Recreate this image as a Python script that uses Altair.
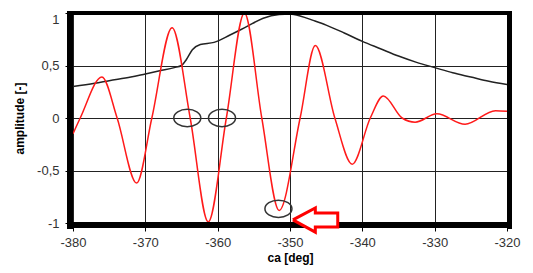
import altair as alt
import pandas as pd

# Red curve (signal)
red_deg = [-380, -379, -376, -373.9, -371.2, -369.1, -366.3, -363.8, -361.3, -358.8,
           -356.3, -353.9, -351.5, -348.6, -346.5, -343.8, -341.4, -338.9, -337.1,
           -334.5, -332.7, -329.7, -325.8, -321.6, -320]
red_amp = [-0.15, 0.0, 0.39, 0.0, -0.62, 0.0, 0.86, 0.0, -0.99, 0.0,
           1.0, 0.0, -0.88, 0.0, 0.69, 0.0, -0.44, 0.0, 0.21,
           0.0, -0.04, 0.04, -0.06, 0.07, 0.065]

# Black curve (envelope)
black_deg = [-380, -377, -375, -372, -370, -368, -366, -365, -364.3, -363.5, -362.4,
             -360.5, -358.3, -356, -353.7, -351.5, -350, -348.5, -346.8, -345, -342.5,
             -340, -337.5, -335, -332.5, -330, -327.5, -325, -322.5, -320]
black_amp = [0.30, 0.33, 0.355, 0.39, 0.42, 0.45, 0.48, 0.50, 0.56, 0.65, 0.70,
             0.72, 0.79, 0.87, 0.95, 0.985, 0.99, 0.97, 0.93, 0.885, 0.81,
             0.73, 0.66, 0.59, 0.53, 0.48, 0.43, 0.39, 0.35, 0.32]

# Annotation ellipses (centres)
circle_deg = [-364.2, -359.4, -351.6]
circle_amp = [0.0, 0.0, -0.865]

# Annotation arrow outline
arrow_deg = [-349.6, -346.5, -346.5, -343.4, -343.4, -346.5, -346.5, -349.6]
arrow_amp = [-0.97, -0.856, -0.904, -0.904, -1.038, -1.038, -1.087, -0.97]

x_ticks = [-380, -370, -360, -350, -340, -330, -320]
y_ticks = [-1, -0.5, 0, 0.5, 1]

red_df = pd.DataFrame({"ca": red_deg, "amp": red_amp})
black_df = pd.DataFrame({"ca": black_deg, "amp": black_amp})
circ_df = pd.DataFrame({"ca": circle_deg, "amp": circle_amp})
arrow_df = pd.DataFrame({"ca": arrow_deg, "amp": arrow_amp, "o": list(range(len(arrow_deg)))})

FONT = "Liberation Sans"
W, H = 434, 210

xs = alt.Scale(domain=[-380, -320], nice=False, zero=False)
ys = alt.Scale(domain=[-1, 1], nice=False, zero=False)

x_axis = alt.Axis(values=x_ticks, title="ca [deg]", labelExpr="toString(datum.value)",
                  grid=True, gridColor="#222", gridWidth=1, gridOpacity=1,
                  domain=False, tickColor="black", tickSize=8,
                  tickWidth=1, labelPadding=5, labelFont=FONT, labelFontSize=13,
                  labelColor="#333", titleFont=FONT, titleFontSize=12,
                  titleFontWeight="bold", titleColor="black", titlePadding=3,
                  labelFlush=False)
y_axis = alt.Axis(values=y_ticks, title="amplitude [-]",
                  labelExpr="replace(toString(datum.value), '.', ',')",
                  labelBaseline={"condition": {"test": "datum.value == 1", "value": "top"},
                                 "value": "middle"},
                  grid=True, gridColor="#222", gridWidth=1, gridOpacity=1,
                  domain=False, tickColor="black", tickSize=8,
                  tickWidth=1, labelPadding=6, labelFont=FONT, labelFontSize=13,
                  labelColor="#333", titleFont=FONT, titleFontSize=12,
                  titleFontWeight="bold", titleColor="black", titlePadding=10,
                  labelFlush=False)

black_line = alt.Chart(black_df).mark_line(color="#222", strokeWidth=1.5, interpolate="monotone").encode(
    x=alt.X("ca:Q", scale=xs, axis=x_axis),
    y=alt.Y("amp:Q", scale=ys, axis=y_axis),
)
red_line = alt.Chart(red_df).mark_line(color="#ff1a1a", strokeWidth=1.5, interpolate="monotone").encode(
    x=alt.X("ca:Q", scale=xs),
    y=alt.Y("amp:Q", scale=ys),
)
ellipse_path = "M-1,0 A1,0.64 0 1,0 1,0 A1,0.64 0 1,0 -1,0 Z"
circles = alt.Chart(circ_df).mark_point(shape=ellipse_path, size=729, filled=False,
                                        color="#333", strokeWidth=1.5, opacity=1).encode(
    x=alt.X("ca:Q", scale=xs),
    y=alt.Y("amp:Q", scale=ys),
)

# Heavy plot frame (left/bottom thicker, like the original)
frame_top = alt.Chart().mark_rule(color="black", strokeWidth=4).encode(
    x=alt.value(-6), x2=alt.value(W + 5), y=alt.value(0))
frame_right = alt.Chart().mark_rule(color="black", strokeWidth=5).encode(
    x=alt.value(W + 2.5), y=alt.value(-2), y2=alt.value(H + 6))
frame_left = alt.Chart().mark_rule(color="black", strokeWidth=6).encode(
    x=alt.value(-3), y=alt.value(-2), y2=alt.value(H + 6))
frame_bottom = alt.Chart().mark_rule(color="black", strokeWidth=6).encode(
    x=alt.value(-6), x2=alt.value(W + 5), y=alt.value(H + 2))

arrow = alt.Chart(arrow_df).mark_line(stroke="red", fill="white", strokeWidth=3,
                                      strokeJoin="miter", clip=False).encode(
    x=alt.X("ca:Q", scale=xs),
    y=alt.Y("amp:Q", scale=ys),
    order="o:Q",
)

chart = alt.layer(black_line, red_line, circles,
                  frame_top, frame_right, frame_left, frame_bottom, arrow).properties(
    width=W, height=H,
    background="white",
    autosize=alt.AutoSizeParams(type="none"),
    padding={"left": 65, "top": 5, "right": 18, "bottom": 42},
).configure_view(stroke=None)

chart.save("out.html", embed_options={"renderer": "svg", "actions": False})
